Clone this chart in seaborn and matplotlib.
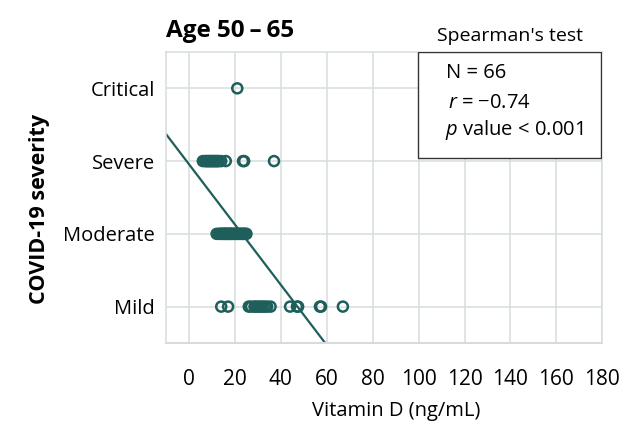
import numpy as np
import pandas as pd
import matplotlib
matplotlib.use('Agg')
import matplotlib.pyplot as plt
import seaborn as sns
from matplotlib.patches import Rectangle

# severity categories (coded 0..3 on the y axis)
categories = ['Mild', 'Moderate', 'Severe', 'Critical']

# vitamin D values (ng/mL), per severity group
mild = [14, 17, 26, 27, 28.5, 29, 30, 31, 32, 33, 34, 35.5, 44, 47, 47.5, 57, 57.5, 67]
moderate = [12, 13, 13.5, 14, 14.5, 15, 15.5, 16, 16.5, 17, 17.5, 18, 18.5, 19, 19.5,
            20, 20.5, 21, 21.5, 22, 22.5, 23, 23.5, 24, 24.5, 25, 16, 18]
severe = [6, 7, 7.5, 8, 8.5, 9, 9.5, 10, 10.5, 11, 11.5, 12, 12.5, 13, 14, 16, 23.5, 24, 37]
critical = [21]

xticks = [0, 20, 40, 60, 80, 100, 120, 140, 160, 180]
stats_lines = ['N = 66', '$r$ = \u22120.74', '$p$ value < 0.001']

groups = [mild, moderate, severe, critical]
data = pd.DataFrame({
    'vitd': np.concatenate(groups),
    'severity': np.concatenate([[i] * len(g) for i, g in enumerate(groups)]),
})

sns.set_style('white')
plt.rcParams['font.family'] = ['Open Sans', 'DejaVu Sans']
plt.rcParams['mathtext.fontset'] = 'custom'
plt.rcParams['mathtext.rm'] = 'Open Sans'
plt.rcParams['mathtext.it'] = 'Open Sans:italic'
plt.rcParams['text.color'] = 'black'
plt.rcParams['axes.labelcolor'] = 'black'
plt.rcParams['xtick.labelcolor'] = 'black'
plt.rcParams['ytick.labelcolor'] = 'black'

teal = '#1f5f5b'
grid = '#d6dcdc'

fig = plt.figure(figsize=(6.34, 4.44), dpi=100)
ax = fig.add_axes([0.262, 0.2275, 0.688, 0.6555])
ax.set_xlim(-10, 180)
ax.set_ylim(-0.5, 3.5)

sns.regplot(data=data, x='vitd', y='severity', ax=ax, ci=None, truncate=False,
            scatter_kws=dict(facecolors='none', edgecolors=teal, s=52,
                             linewidths=1.8, alpha=1, zorder=3),
            line_kws=dict(color=teal, lw=1.6, zorder=2))
ax.set_xlim(-10, 180)
ax.set_ylim(-0.5, 3.5)

ax.set_xticks(xticks)
ax.set_yticks(range(len(categories)))
ax.set_yticklabels(categories, fontsize=14.5)
ax.tick_params(axis='x', labelsize=15, direction='out', length=7, width=1,
               color='#444444', pad=5)
ax.tick_params(axis='y', length=0, pad=8)
ax.grid(True, color=grid, lw=1.1)
ax.set_axisbelow(True)

for side in ['left', 'top', 'right']:
    ax.spines[side].set_color(grid)
    ax.spines[side].set_linewidth(1.1)
ax.spines['bottom'].set_position(('outward', 6.5))
ax.spines['bottom'].set_visible(False)
ax.axhline(-0.5, color=grid, lw=1.5, clip_on=False)

ax.set_xlabel('Vitamin D (ng/mL)', fontsize=14.5)
ax.xaxis.set_label_coords(0.527, -0.20)
ax.set_ylabel('COVID-19 severity', fontsize=15.5, fontweight='bold')
ax.yaxis.set_label_coords(-0.266, 0.46)

# stats box
ax.add_patch(Rectangle((0.578, 0.636), 0.42, 0.364, transform=ax.transAxes,
                       facecolor='white', edgecolor='#333333', lw=1, zorder=5))
for txt, xx, yy in zip(stats_lines, [0.642, 0.647, 0.640], [0.928, 0.825, 0.732]):
    ax.text(xx, yy, txt, transform=ax.transAxes, fontsize=14.5, va='center', zorder=6)

fig.text(166 / 634, 1 - 37 / 444, 'Age 50\u2009\u2013\u200965', fontsize=17.5,
         fontweight='bold', va='baseline')
fig.text(510 / 634, 1 - 41 / 444, "Spearman's test", fontsize=14,
         ha='center', va='baseline')

fig.savefig('out.png', dpi=100)
